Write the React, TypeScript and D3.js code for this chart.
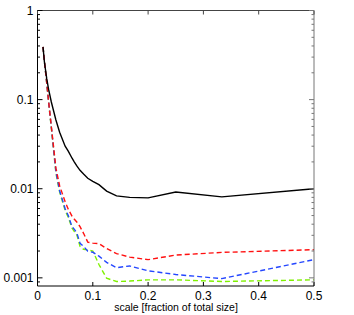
import React, { useEffect, useRef } from 'react';
import * as d3 from 'd3';

// scale values (fraction of total size)
const scales = [0.01, 0.0125, 0.0167, 0.02, 0.025, 0.0333, 0.04, 0.05, 0.0556, 0.0625, 0.0667, 0.0714,
  0.0769, 0.0833, 0.0909, 0.1, 0.1111, 0.125, 0.1429, 0.1667, 0.2, 0.25, 0.3333, 0.5];

const blackSeries = [0.39, 0.264, 0.172, 0.131, 0.094, 0.059, 0.043, 0.03, 0.0264, 0.022, 0.0199, 0.0179,
  0.0161, 0.0146, 0.0131, 0.0121, 0.0111, 0.0094, 0.0083, 0.008, 0.0079, 0.0092, 0.0081, 0.01];
const redSeries = [0.39, 0.27, 0.155, 0.097, 0.05, 0.017, 0.0108, 0.00714, 0.0059, 0.00491, 0.00454, 0.0042,
  0.00375, 0.00316, 0.00252, 0.00245, 0.00242, 0.00213, 0.00187, 0.00171, 0.0016, 0.0018, 0.00193, 0.00207];
const blueSeries = [0.39, 0.27, 0.153, 0.095, 0.049, 0.0155, 0.0095, 0.00596, 0.005, 0.00374, 0.0035, 0.00316,
  0.00244, 0.00226, 0.00199, 0.00194, 0.00175, 0.00149, 0.0013, 0.00136, 0.0012, 0.00109, 0.00098, 0.0016];
const greenSeries = [0.39, 0.27, 0.152, 0.094, 0.048, 0.015, 0.0092, 0.0057, 0.0048, 0.0036, 0.0033, 0.003,
  0.00226, 0.00209, 0.00206, 0.002, 0.00141, 0.00099, 0.00091, 0.00092, 0.00095, 0.00095, 0.00091, 0.00095];

const xTicks = [0, 0.1, 0.2, 0.3, 0.4, 0.5];
const xTickLabels = ['0', '0.1', '0.2', '0.3', '0.4', '0.5'];
const yTicks = [1, 0.1, 0.01, 0.001];
const yTickLabels = ['1', '0.1', '0.01', '0.001'];
const xTitle = 'scale [fraction of total size]';

export default function App() {
  const ref = useRef<SVGSVGElement>(null);

  useEffect(() => {
    const svg = d3.select(ref.current);
    svg.selectAll('*').remove();

    const left = 37.5, right = 314, top = 10.5, bottom = 286;
    const x = d3.scaleLinear().domain([0, 0.5]).range([left, right]);
    const y = d3.scaleLog().domain([0.00081, 1]).range([bottom, top]);
    const font = 'Liberation Sans, Arial, sans-serif';

    svg.append('rect').attr('width', 354).attr('height', 315).attr('fill', '#fff');

    const line = d3.line<number>()
      .x((d, i) => x(scales[i]))
      .y((d) => y(d));

    const series = [
      { values: greenSeries, color: '#7ff000', dash: '5,3' },
      { values: blueSeries, color: '#2446ff', dash: '5,3' },
      { values: redSeries, color: '#ff1010', dash: '5,3' },
      { values: blackSeries, color: '#000', dash: null },
    ];
    series.forEach((s) => {
      svg.append('path')
        .attr('d', line(s.values))
        .attr('fill', 'none')
        .attr('stroke', s.color)
        .attr('stroke-width', 1.4)
        .attr('stroke-dasharray', s.dash);
    });

    // box
    const axisG = svg.append('g').attr('stroke-width', 1).attr('fill', 'none');
    axisG.append('line').attr('x1', left).attr('x2', right).attr('y1', top).attr('y2', top).attr('stroke', '#444');
    axisG.append('line').attr('x1', right).attr('x2', right).attr('y1', top).attr('y2', bottom).attr('stroke', '#777');
    axisG.append('line').attr('x1', left).attr('x2', right).attr('y1', bottom).attr('y2', bottom).attr('stroke', '#000');
    axisG.append('line').attr('x1', left).attr('x2', left).attr('y1', top).attr('y2', bottom).attr('stroke', '#000');

    // x ticks (inside, top and bottom)
    xTicks.forEach((t, i) => {
      const px = x(t);
      axisG.append('line').attr('x1', px).attr('x2', px).attr('y1', bottom).attr('y2', bottom - 4).attr('stroke', '#000');
      axisG.append('line').attr('x1', px).attr('x2', px).attr('y1', top).attr('y2', top + 4).attr('stroke', '#444');
      svg.append('text')
        .attr('x', px).attr('y', 299.5)
        .attr('text-anchor', 'middle')
        .style('font-family', font).style('font-size', '12px')
        .text(xTickLabels[i]);
    });

    // y ticks, major and minor (log)
    const minor: number[] = [];
    [0.0001, 0.001, 0.01, 0.1].forEach((dec) => {
      for (let k = 2; k <= 9; k++) minor.push(dec * k);
    });
    minor.filter((v) => v >= 0.00081 && v <= 1).forEach((v) => {
      const py = y(v);
      axisG.append('line').attr('x1', left).attr('x2', left + 2.5).attr('y1', py).attr('y2', py).attr('stroke', '#000');
      axisG.append('line').attr('x1', right).attr('x2', right - 2.5).attr('y1', py).attr('y2', py).attr('stroke', '#777');
    });
    yTicks.forEach((t, i) => {
      const py = y(t);
      axisG.append('line').attr('x1', left).attr('x2', left + 5).attr('y1', py).attr('y2', py).attr('stroke', '#000');
      axisG.append('line').attr('x1', right).attr('x2', right - 5).attr('y1', py).attr('y2', py).attr('stroke', '#777');
      svg.append('text')
        .attr('x', 33.5).attr('y', py + 4.5)
        .attr('text-anchor', 'end')
        .style('font-family', font).style('font-size', '12px')
        .text(yTickLabels[i]);
    });

    svg.append('text')
      .attr('x', 176).attr('y', 311)
      .attr('text-anchor', 'middle')
      .style('font-family', font).style('font-size', '10.5px')
      .text(xTitle);
  }, []);

  return (
    <svg ref={ref} width={354} height={315}
      style={{ position: 'absolute', left: 0, top: 0, display: 'block' }} />
  );
}
